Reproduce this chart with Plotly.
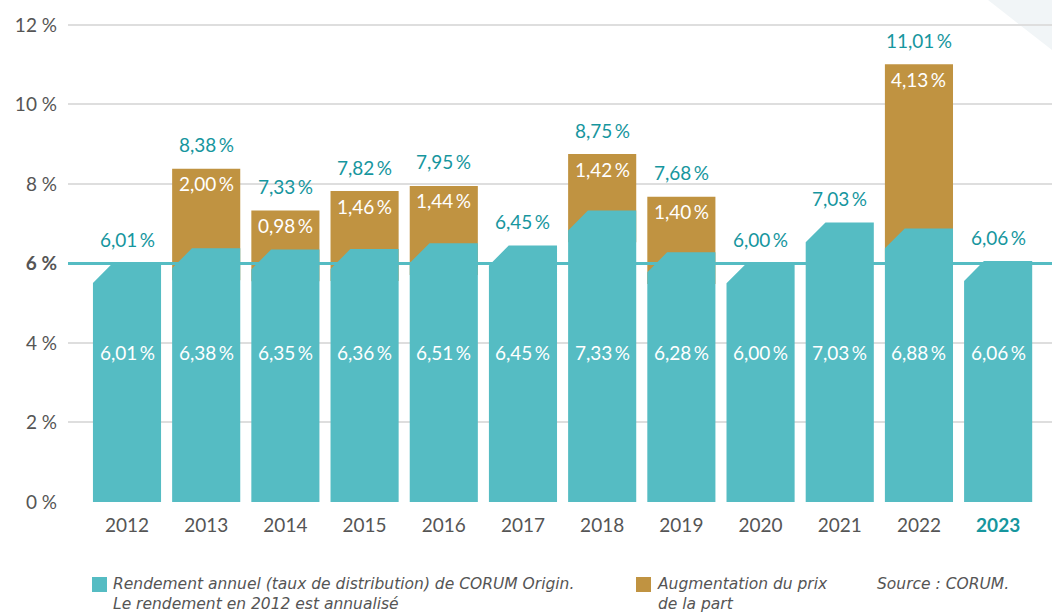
import plotly.graph_objects as go

years = ["2012", "2013", "2014", "2015", "2016", "2017", "2018", "2019", "2020", "2021", "2022", "2023"]
rendement = [6.01, 6.38, 6.35, 6.36, 6.51, 6.45, 7.33, 6.28, 6.00, 7.03, 6.88, 6.06]
augmentation = [0, 2.00, 0.98, 1.46, 1.44, 0, 1.42, 1.40, 0, 0, 4.13, 0]
totals = [6.01, 8.38, 7.33, 7.82, 7.95, 6.45, 8.75, 7.68, 6.00, 7.03, 11.01, 6.06]
y_ticks = [0, 2, 4, 6, 8, 10, 12]
y_tick_text = ["0 %", "2 %", "4 %", "<b>6 %</b>", "8 %", "10 %", "12 %"]
target = 6

TEAL = "#55BCC3"
TEAL_DARK = "#16969E"
GOLD = "#C09341"
GRAY = "#555555"
FONT = "Lato"
LEG_FONT = "DejaVu Sans"

W = 0.86     # bar width (category units)
CDX = 0.25   # chamfer width
CDY = 0.5    # chamfer height
GOLD_OVERLAP = 0.8


def fmt(v):
    return f"{v:.2f}".replace(".", ",") + "\u2009%"


xs = list(range(len(years)))
fig = go.Figure()

# gold (price increase) bars, drawn behind the teal bars
gx = [i for i in xs if augmentation[i] > 0]
fig.add_trace(go.Bar(
    x=gx,
    base=[rendement[i] - GOLD_OVERLAP for i in gx],
    y=[augmentation[i] + GOLD_OVERLAP for i in gx],
    width=W, marker=dict(color=GOLD, line=dict(width=0)),
    showlegend=False, hoverinfo="skip",
))

# teal bars with chamfered top-left corner
px, py = [], []
for i in xs:
    v = rendement[i]
    l, r = i - W / 2, i + W / 2
    px += [l, l, l + CDX, r, r, l, None]
    py += [0, v - CDY, v, v, 0, 0, None]
fig.add_trace(go.Scatter(
    x=px, y=py, mode="lines", fill="toself", fillcolor=TEAL,
    line=dict(width=0, color=TEAL), showlegend=False, hoverinfo="skip",
))

ann = []
for i in xs:
    ann.append(dict(x=i, y=totals[i], yshift=24, text=fmt(totals[i]), showarrow=False,
                    font=dict(family=FONT, size=19, color=TEAL_DARK)))
    ann.append(dict(x=i, y=3.77, text=fmt(rendement[i]), showarrow=False,
                    font=dict(family=FONT, size=19, color="white")))
    if augmentation[i] > 0:
        ann.append(dict(x=i, y=totals[i], yshift=-15, text=fmt(augmentation[i]), showarrow=False,
                        font=dict(family=FONT, size=19, color="white")))


def px_x(p):
    return (p - 68) / 984


def px_y(p):
    return (502 - p) / 501


# legend / source text
leg_font = dict(family=LEG_FONT, size=15.5, color=GRAY)
for txt, x0 in [
    ("Rendement annuel (taux de distribution) de CORUM Origin.<br>Le rendement en 2012 est annualisé", 111),
    ("Augmentation du prix<br>de la part", 655),
    ("Source : CORUM.", 875),
]:
    ann.append(dict(xref="paper", yref="paper", x=px_x(x0), y=px_y(573), xanchor="left", yanchor="top",
                    align="left", text=f"<i>{txt}</i>", showarrow=False, font=leg_font))

shapes = [
    # decorative triangle top right
    dict(type="path", xref="paper", yref="paper", layer="below",
         path=f"M {px_x(988)} {px_y(0)} L {px_x(1052)} {px_y(0)} L {px_x(1052)} {px_y(50)} Z",
         fillcolor="#F1F5F7", line=dict(width=0)),
    # 6 % reference line
    dict(type="line", xref="paper", yref="y", x0=0, x1=1, y0=target, y1=target,
         line=dict(color=TEAL, width=3), layer="above"),
    # legend squares
    dict(type="rect", xref="paper", yref="paper", x0=px_x(92), x1=px_x(107),
         y0=px_y(577), y1=px_y(592), fillcolor=TEAL, line=dict(width=0)),
    dict(type="rect", xref="paper", yref="paper", x0=px_x(636), x1=px_x(651),
         y0=px_y(577), y1=px_y(592), fillcolor=GOLD, line=dict(width=0)),
]

tick_text = [y if y != "2023" else f"<b><span style='color:{TEAL_DARK}'>{y}</span></b>" for y in years]

fig.update_layout(
    width=1052, height=614,
    margin=dict(l=68, r=0, t=1, b=112),
    paper_bgcolor="white", plot_bgcolor="white",
    barmode="overlay",
    font=dict(family=FONT, color=GRAY),
    annotations=ann, shapes=shapes,
    xaxis=dict(range=[-0.745, 11.68], tickvals=xs, ticktext=tick_text, showgrid=False,
               zeroline=False, showline=False, ticks="", tickfont=dict(family=FONT, size=19, color=GRAY),
               ticklabelstandoff=10, fixedrange=True),
    yaxis=dict(range=[0, 12.6], tickvals=y_ticks, ticktext=y_tick_text, showgrid=True,
               gridcolor="#DEDEDE", gridwidth=1.5, zeroline=False, showline=False, ticks="",
               ticklabelstandoff=10,
               tickfont=dict(family=FONT, size=19, color=GRAY), fixedrange=True),
    showlegend=False,
)

fig.write_html("out.html", config={"displayModeBar": False})

# remove default browser body margin so the figure sits at the page origin
with open("out.html", encoding="utf-8") as f:
    html = f.read()
html = html.replace("<body>", '<body style="margin:0;padding:0;overflow:hidden">', 1)
with open("out.html", "w", encoding="utf-8") as f:
    f.write(html)
